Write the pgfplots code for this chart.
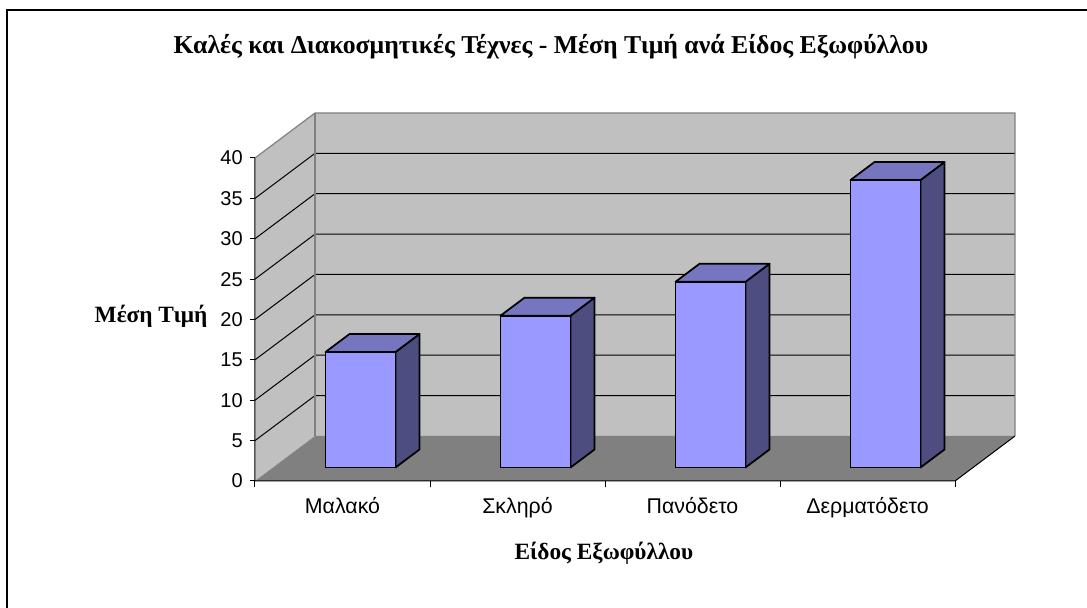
\documentclass[border=0pt]{standalone}
\usepackage{pgfplots}
\pgfplotsset{compat=1.18}
\usepackage{fontspec}
\setmainfont{Liberation Serif}
\newfontfamily\arial{Liberation Sans}
\definecolor{wall}{RGB}{192,192,192}
\definecolor{floorc}{RGB}{128,128,128}
\definecolor{edgec}{RGB}{128,128,128}
\definecolor{barfront}{RGB}{153,153,255}
\definecolor{bartop}{RGB}{117,117,192}
\definecolor{barside}{RGB}{77,77,128}
\begin{document}
\begin{tikzpicture}
\begin{axis}[
  x={(131.25pt,0pt)}, y={(45pt,33.75pt)}, z={(0pt,6.05625pt)},
  xmin=0, xmax=4, ymin=0, ymax=1, zmin=0, zmax=40,
  hide axis, clip=false,
]
% bounding box corners and frame
\coordinate (bbl) at (axis cs:-1.457143,0,-15.727554);
\coordinate (btr) at (axis cs:4.754286,0,59.566563);
\draw[black, line width=1.1pt] (axis cs:-1.417143,0,-17) -- (axis cs:-1.417143,0,58.328) -- (axis cs:4.9,0,58.328);
% walls and floor
\addplot3[fill=wall, draw=none, forget plot] coordinates {(0,1,0) (4,1,0) (4,1,40) (0,1,40)} -- cycle;
\addplot3[fill=wall, draw=none, forget plot] coordinates {(0,0,0) (0,1,0) (0,1,40) (0,0,40)} -- cycle;
\addplot3[fill=floorc, draw=none, forget plot] coordinates {(0,0,0) (4,0,0) (4,1,0) (0,1,0)} -- cycle;
% gridlines
\pgfplotsinvokeforeach{5,10,15,20,25,30,35}{
  \addplot3[black, line width=0.75pt, forget plot] coordinates {(0,0,#1) (0,1,#1) (4,1,#1)};
}
% wall edges
\addplot3[edgec, line width=0.9pt, forget plot] coordinates {(0,0,40) (0,1,40) (4,1,40) (4,1,0)};
\addplot3[edgec, line width=0.9pt, forget plot] coordinates {(0,1,0) (0,1,40)};
% front axes
\addplot3[black, line width=0.75pt, forget plot] coordinates {(0,0,40) (0,0,0) (4,0,0) (4,1,0)};
\pgfplotsinvokeforeach{0,5,10,15,20,25,30,35,40}{
  \draw[black, line width=0.75pt] (axis cs:0,0,#1) -- (axis cs:-0.03,0,#1);
  \node[anchor=east, font=\arial\fontsize{15}{17}\selectfont, inner sep=0pt] at (axis cs:-0.0686,0,#1) {#1};
}
\pgfplotsinvokeforeach{0,1,2,3,4}{
  \draw[black, line width=0.75pt] (axis cs:#1,0,0) -- (axis cs:#1,0,-0.8);
}
% bars (front y=0.3, back y=0.7)
\pgfplotsset{barface/.style={line width=1.3pt, draw=black, line join=round, forget plot}}
% bar 1
\addplot3[barface, fill=barside] coordinates {(0.7,0.3,0) (0.7,0.7,0) (0.7,0.7,14.3) (0.7,0.3,14.3)} -- cycle;
\addplot3[barface, fill=bartop] coordinates {(0.3,0.3,14.3) (0.7,0.3,14.3) (0.7,0.7,14.3) (0.3,0.7,14.3)} -- cycle;
\addplot3[barface, fill=barfront] coordinates {(0.3,0.3,0) (0.7,0.3,0) (0.7,0.3,14.3) (0.3,0.3,14.3)} -- cycle;
% bar 2
\addplot3[barface, fill=barside] coordinates {(1.7,0.3,0) (1.7,0.7,0) (1.7,0.7,18.8) (1.7,0.3,18.8)} -- cycle;
\addplot3[barface, fill=bartop] coordinates {(1.3,0.3,18.8) (1.7,0.3,18.8) (1.7,0.7,18.8) (1.3,0.7,18.8)} -- cycle;
\addplot3[barface, fill=barfront] coordinates {(1.3,0.3,0) (1.7,0.3,0) (1.7,0.3,18.8) (1.3,0.3,18.8)} -- cycle;
% bar 3
\addplot3[barface, fill=barside] coordinates {(2.7,0.3,0) (2.7,0.7,0) (2.7,0.7,23.0) (2.7,0.3,23.0)} -- cycle;
\addplot3[barface, fill=bartop] coordinates {(2.3,0.3,23.0) (2.7,0.3,23.0) (2.7,0.7,23.0) (2.3,0.7,23.0)} -- cycle;
\addplot3[barface, fill=barfront] coordinates {(2.3,0.3,0) (2.7,0.3,0) (2.7,0.3,23.0) (2.3,0.3,23.0)} -- cycle;
% bar 4
\addplot3[barface, fill=barside] coordinates {(3.7,0.3,0) (3.7,0.7,0) (3.7,0.7,35.6) (3.7,0.3,35.6)} -- cycle;
\addplot3[barface, fill=bartop] coordinates {(3.3,0.3,35.6) (3.7,0.3,35.6) (3.7,0.7,35.6) (3.3,0.7,35.6)} -- cycle;
\addplot3[barface, fill=barfront] coordinates {(3.3,0.3,0) (3.7,0.3,0) (3.7,0.3,35.6) (3.3,0.3,35.6)} -- cycle;
% category labels
\node[anchor=base, font=\arial\fontsize{16}{18}\selectfont] at (axis cs:0.5,0,-4.087) {Μαλακό};
\node[anchor=base, font=\arial\fontsize{16}{18}\selectfont] at (axis cs:1.5,0,-4.087) {Σκληρό};
\node[anchor=base, font=\arial\fontsize{16}{18}\selectfont] at (axis cs:2.5,0,-4.087) {Πανόδετο};
\node[anchor=base, font=\arial\fontsize{16}{18}\selectfont] at (axis cs:3.5,0,-4.087) {Δερματόδετο};
% titles
\node[anchor=base, font=\bfseries\fontsize{19.3}{22}\selectfont] at (axis cs:1.691,0,53.0) {Καλές και Διακοσμητικές Τέχνες - Μέση Τιμή ανά Είδος Εξωφύλλου};
\node[anchor=base, font=\bfseries\fontsize{17.5}{20}\selectfont] at (axis cs:-0.594,0,19.57) {Μέση Τιμή};
\node[anchor=base, font=\bfseries\fontsize{17.5}{20}\selectfont] at (axis cs:1.994,0,-9.78) {Είδος Εξωφύλλου};
\end{axis}
\pgfresetboundingbox
\useasboundingbox (bbl) rectangle (btr);
\end{tikzpicture}
\end{document}
